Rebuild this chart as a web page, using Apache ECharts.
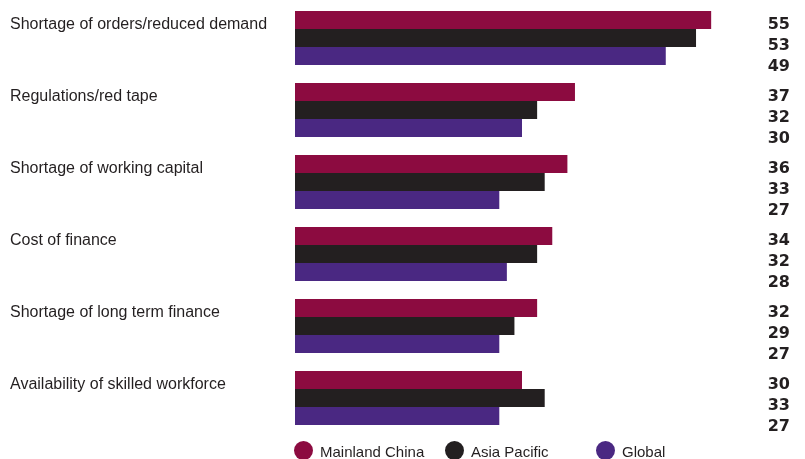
<!DOCTYPE html>
<html>
<head>
<meta charset="utf-8">
<script src="https://cdn.jsdelivr.net/npm/echarts@6/dist/echarts.min.js"></script>
<style>
  html, body { margin: 0; padding: 0; background: #fff; }
  #chart { width: 805px; height: 459px; }
</style>
</head>
<body>
<div id="chart"></div>
<script>
// Barriers to business growth, % of respondents
const categories = [
  'Shortage of orders/reduced demand',
  'Regulations/red tape',
  'Shortage of working capital',
  'Cost of finance',
  'Shortage of long term finance',
  'Availability of skilled workforce'
];
const mainlandChina = [55, 37, 36, 34, 32, 30];
const asiaPacific   = [53, 32, 33, 32, 29, 33];
const globalValues  = [49, 30, 27, 28, 27, 27];

const seriesNames  = ['Mainland China', 'Asia Pacific', 'Global'];
const seriesColors = ['#8c0b40', '#231f20', '#4a2882'];
const seriesData   = [mainlandChina, asiaPacific, globalValues];

const TEXT = '#231f20';
const FONT = "'Liberation Sans', Arial, sans-serif";
const NUM_FONT = "'DejaVu Sans', sans-serif";

const chart = echarts.init(document.getElementById('chart'), null, { renderer: 'canvas' });

const GRID_LEFT = 295;
const GRID_RIGHT = 56;
const LEGEND_LEFT = [294, 445, 596];

const option = {
  backgroundColor: '#ffffff',
  animation: false,
  grid: { left: GRID_LEFT, right: GRID_RIGHT, top: 2, height: 432, containLabel: false },
  legend: seriesNames.map((name, i) => ({
    data: [name],
    left: LEGEND_LEFT[i],
    top: 441,
    padding: 0,
    icon: 'circle',
    itemWidth: 19,
    itemHeight: 19,
    itemGap: 0,
    formatter: (n) => '{a|' + n + '}',
    textStyle: {
      color: TEXT,
      fontFamily: FONT,
      fontSize: 15,
      rich: { a: { color: TEXT, fontFamily: FONT, fontSize: 15, padding: [5, 0, 0, 2] } }
    },
    selectedMode: false
  })),
  xAxis: {
    type: 'value',
    min: 0,
    max: 60,
    show: false
  },
  yAxis: [
    {
      // category names, set at the top of each group
      type: 'category',
      data: categories,
      inverse: true,
      axisLine: { show: false },
      axisTick: { show: false },
      splitLine: { show: false },
      axisLabel: {
        interval: 0,
        hideOverlap: false,
        align: 'left',
        margin: GRID_LEFT - 10,
        verticalAlign: 'middle',
        formatter: (value) => '{t|' + value + '}\n{s| }',
        rich: {
          t: { color: TEXT, fontFamily: FONT, fontSize: 16, lineHeight: 20, align: 'left' },
          s: { fontSize: 10, lineHeight: 27 }
        }
      }
    },
    {
      // value column on the right: one line per series
      type: 'category',
      data: categories,
      inverse: true,
      position: 'right',
      axisLine: { show: false },
      axisTick: { show: false },
      splitLine: { show: false },
      axisLabel: {
        interval: 0,
        hideOverlap: false,
        showMinLabel: true,
        showMaxLabel: true,
        align: 'right',
        margin: 41,
        verticalAlign: 'middle',
        formatter: (value, index) =>
          '{s| }\n' + seriesData.map(arr => '{v|' + arr[index] + '}').join('\n'),
        rich: {
          s: { fontSize: 8, lineHeight: 15 },
          v: { color: TEXT, fontFamily: NUM_FONT, fontWeight: 'bold', fontSize: 16, lineHeight: 21, align: 'right' }
        }
      }
    }
  ],
  series: seriesNames.map((name, i) => ({
    name: name,
    type: 'bar',
    yAxisIndex: 0,
    data: seriesData[i],
    barWidth: 18,
    barGap: '0%',
    barCategoryGap: '25%',
    itemStyle: { color: seriesColors[i] },
    emphasis: { disabled: true }
  }))
};

chart.setOption(option);
</script>
</body>
</html>
